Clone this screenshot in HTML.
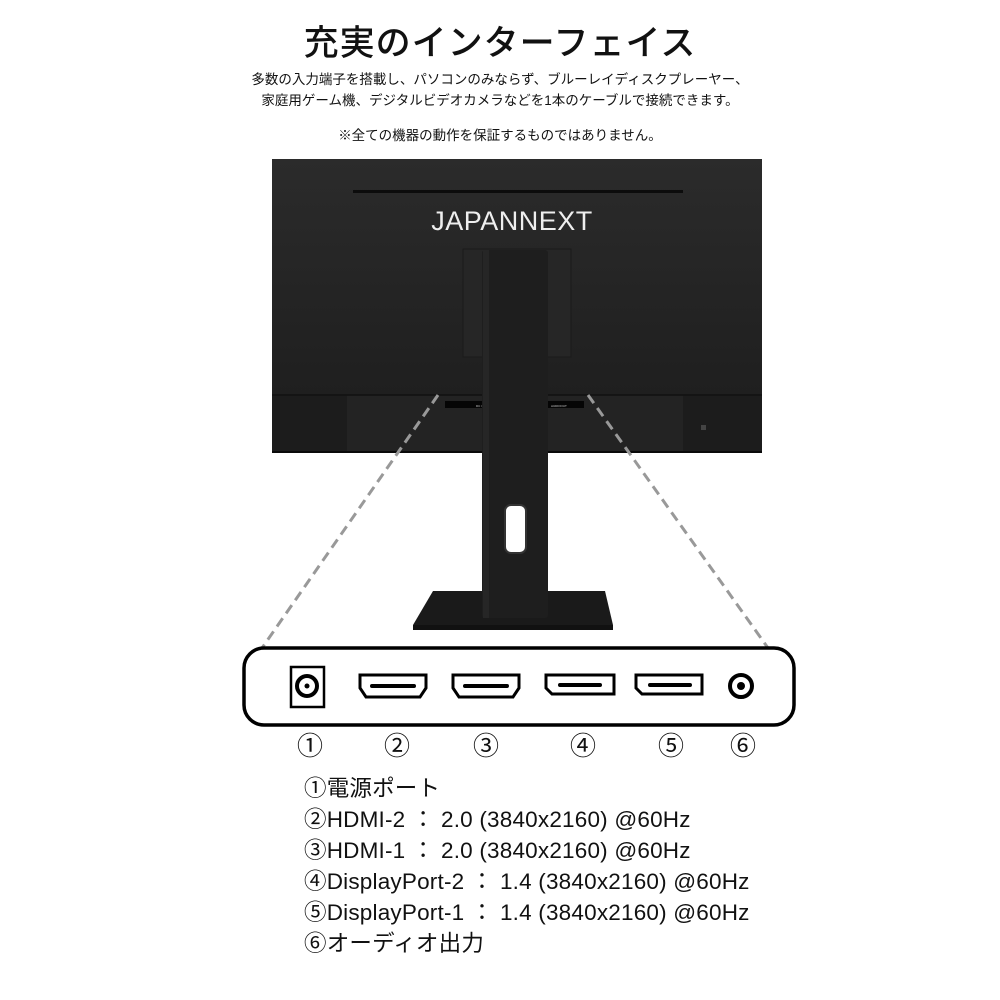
<!DOCTYPE html>
<html><head><meta charset="utf-8"><style>
html,body{margin:0;padding:0;background:#fff;}
body{width:1000px;height:1000px;position:relative;overflow:hidden;font-family:"Liberation Sans","Noto Sans CJK JP",sans-serif;color:#111;}
.t{position:absolute;left:0;width:1000px;text-align:center;white-space:nowrap;}
.list{position:absolute;left:304px;top:773px;font-size:22.5px;line-height:31px;white-space:nowrap;letter-spacing:0.2px;}
</style></head><body>
<div class="t" style="top:15px;font-size:35px;font-weight:500;font-family:'Noto Sans CJK JP',sans-serif;letter-spacing:1px;">充実のインターフェイス</div>
<div class="t" style="top:69px;font-size:13.5px;line-height:21px;">多数の入力端子を搭載し、パソコンのみならず、ブルーレイディスクプレーヤー、<br>家庭用ゲーム機、デジタルビデオカメラなどを1本のケーブルで接続できます。</div>
<div class="t" style="top:124px;font-size:13.5px;">※全ての機器の動作を保証するものではありません。</div>

<svg width="1000" height="1000" style="position:absolute;left:0;top:0" xmlns="http://www.w3.org/2000/svg">
<defs><linearGradient id="g" x1="0" y1="0" x2="0" y2="1"><stop offset="0" stop-color="#2b2b2b"/><stop offset="1" stop-color="#1f1f1f"/></linearGradient></defs>
<rect x="272" y="159" width="490" height="236" fill="url(#g)"/>
<rect x="272" y="395" width="490" height="58" fill="#1c1c1c"/>
<rect x="347" y="395" width="336" height="58" fill="#232323"/>
<line x1="272" y1="395" x2="762" y2="395" stroke="#111" stroke-width="1.5"/>
<line x1="272" y1="452" x2="762" y2="452" stroke="#0a0a0a" stroke-width="2"/>
<rect x="353" y="190" width="330" height="3" fill="#0c0c0c"/>
<text x="512" y="230" text-anchor="middle" font-family="Liberation Sans,sans-serif" font-size="27" fill="#eee" letter-spacing="0.5">JAPANNEXT</text>
<rect x="463" y="249" width="108" height="108" fill="#262626" stroke="#1a1a1a"/>
<rect x="445" y="401" width="38" height="7" fill="#050505"/>
<rect x="548" y="401" width="36" height="7" fill="#050505"/>
<text x="476" y="407" font-size="3" fill="#ccc" font-family="Liberation Sans">DC 12V</text>
<text x="551" y="407" font-size="3" fill="#ccc" font-family="Liberation Sans">AUDIOOUT</text>
<rect x="701" y="425" width="5" height="5" fill="#444"/>
<polygon points="433,591 605,591 613,625 613,630 413,630 413,625" fill="#1a1a1a"/>
<rect x="413" y="625" width="200" height="5" fill="#111"/>
<rect x="482" y="250" width="66" height="368" rx="3" fill="#1e1e1e"/>
<rect x="483" y="250" width="6" height="368" fill="#262626"/>
<rect x="505" y="505" width="21" height="48" rx="6" fill="#fff" stroke="#333" stroke-width="2"/>
<line x1="438" y1="395" x2="262" y2="648" stroke="#999" stroke-width="3" stroke-dasharray="10,6"/>
<line x1="588" y1="395" x2="768" y2="648" stroke="#999" stroke-width="3" stroke-dasharray="10,6"/>
<rect x="244" y="648" width="550" height="77" rx="20" fill="#fff" stroke="#000" stroke-width="3.5"/>
<rect x="291" y="667" width="33" height="40" fill="none" stroke="#000" stroke-width="2.5"/>
<circle cx="307" cy="686" r="10" fill="none" stroke="#000" stroke-width="4"/>
<circle cx="307" cy="686" r="2.5" fill="#000"/>
<g fill="none" stroke="#000" stroke-width="3">
<path d="M360,675 H426 V688 L420,697 H366 L360,688 Z"/>
<path d="M453,675 H519 V688 L513,697 H459 L453,688 Z"/>
<path d="M546,675 H614 V694 H552 L546,688 Z"/>
<path d="M636,675 H702 V694 H642 L636,688 Z"/>
<circle cx="741" cy="686" r="11" stroke-width="4"/>
</g>
<path d="M372,686 H414" stroke="#000" stroke-width="4" stroke-linecap="round"/>
<path d="M465,686 H507" stroke="#000" stroke-width="4" stroke-linecap="round"/>
<path d="M560,685 H600" stroke="#000" stroke-width="4" stroke-linecap="round"/>
<path d="M650,685 H690" stroke="#000" stroke-width="4" stroke-linecap="round"/>
<circle cx="741" cy="686" r="4" fill="#000"/>
<g font-family="Liberation Sans,Noto Sans CJK JP,sans-serif" font-size="26" text-anchor="middle" fill="#111">
<text x="310" y="755">①</text><text x="397" y="755">②</text><text x="486" y="755">③</text><text x="583" y="755">④</text><text x="671" y="755">⑤</text><text x="743" y="755">⑥</text>
</g>
</svg>

<div class="list">①電源ポート<br>②HDMI-2 ： 2.0 (3840x2160) @60Hz<br>③HDMI-1 ： 2.0 (3840x2160) @60Hz<br>④DisplayPort-2 ： 1.4 (3840x2160) @60Hz<br>⑤DisplayPort-1 ： 1.4 (3840x2160) @60Hz<br>⑥オーディオ出力</div>
</body></html>
